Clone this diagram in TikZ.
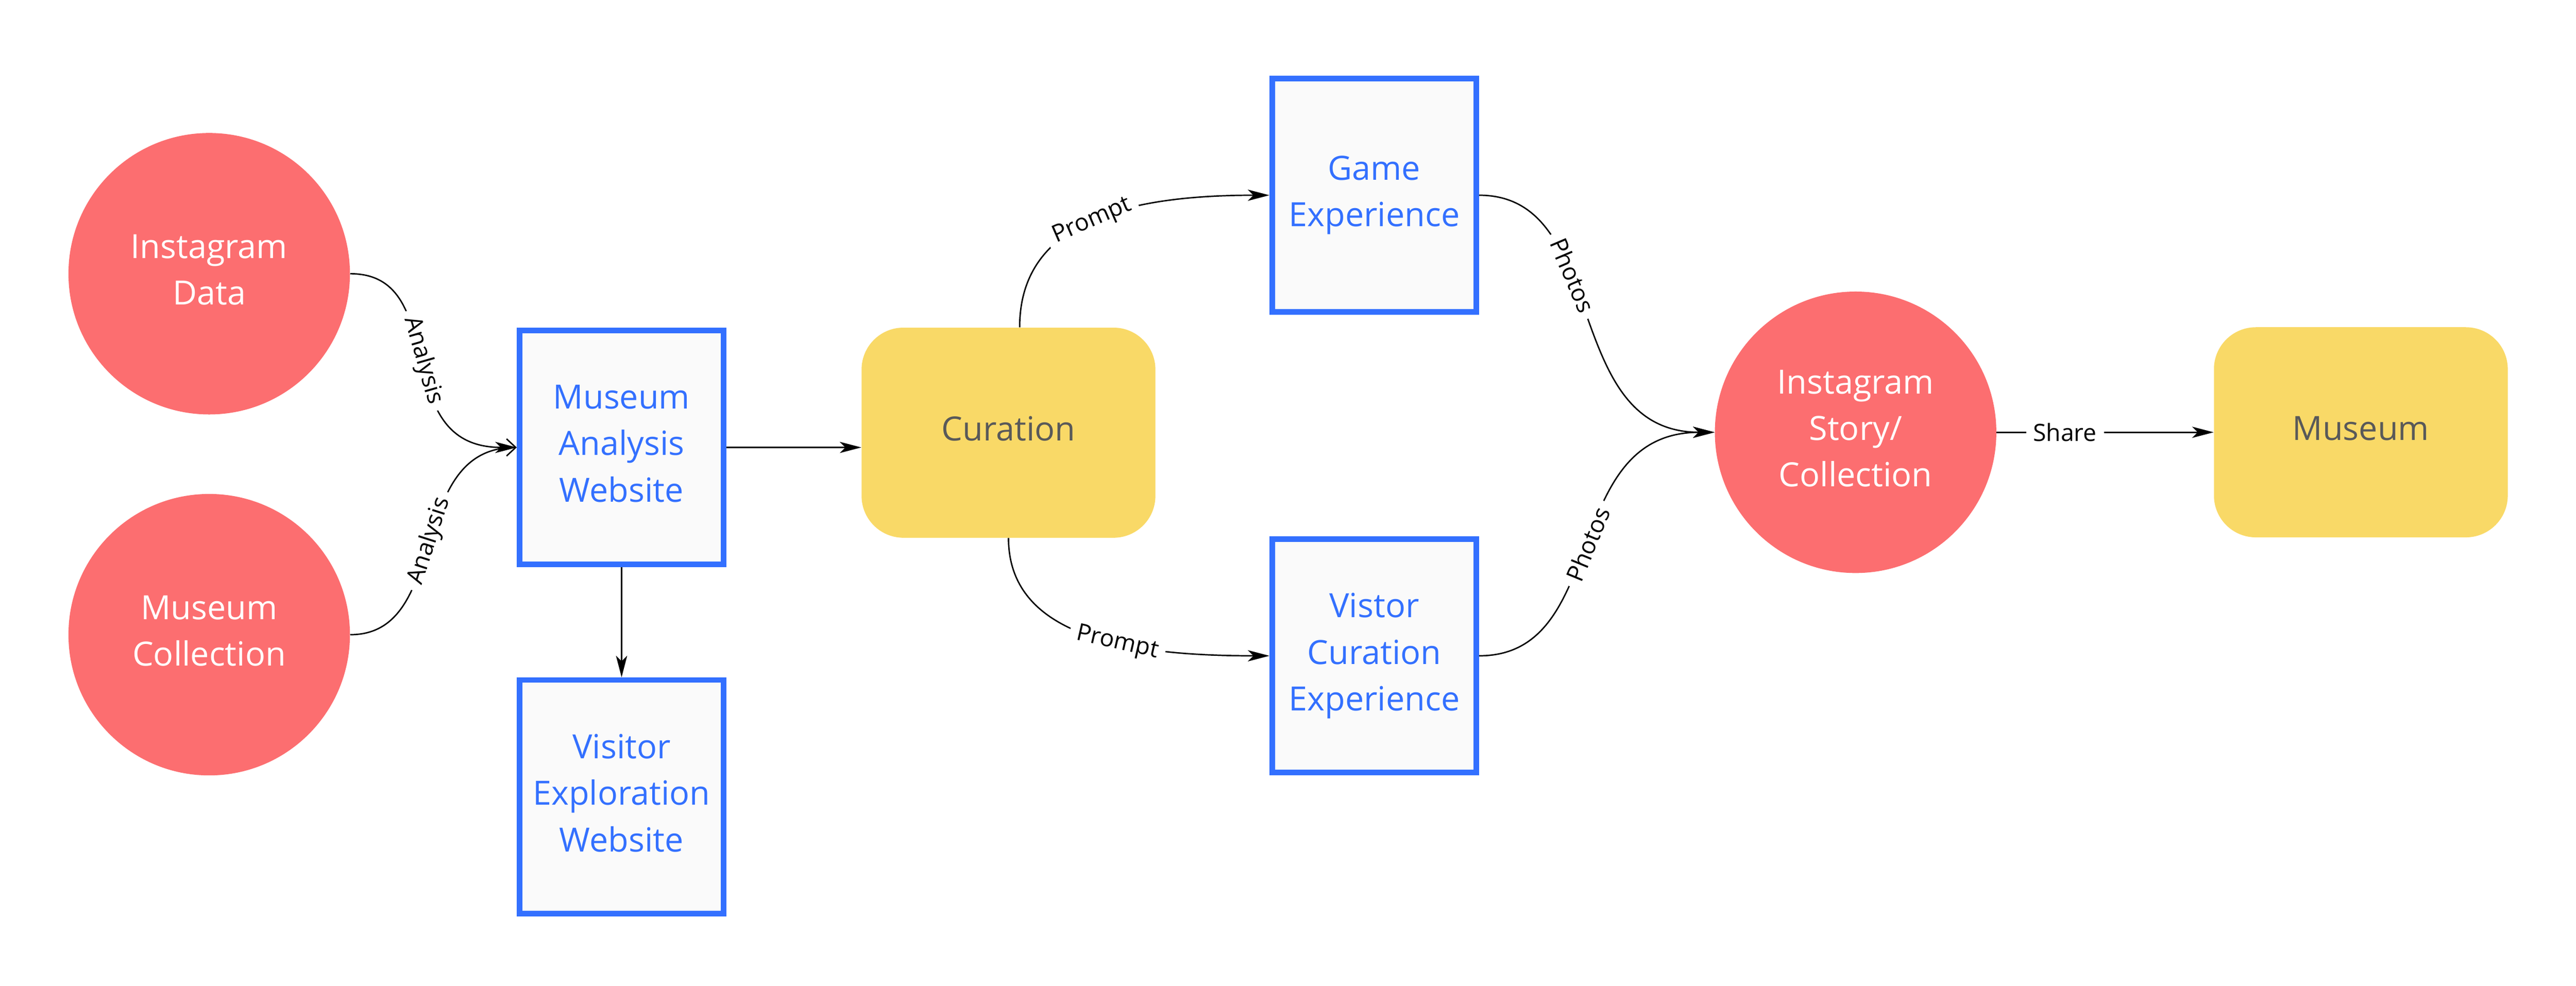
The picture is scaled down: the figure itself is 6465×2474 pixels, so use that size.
\documentclass[tikz,border=0pt]{standalone}
\usepackage{fontspec}
\setmainfont{Open Sans}
\usetikzlibrary{arrows.meta}
\definecolor{cblue}{HTML}{3370FF}
\definecolor{boxfill}{HTML}{FAFAFA}
\definecolor{cred}{HTML}{FC6E70}
\definecolor{cyel}{HTML}{F9D967}
\definecolor{cgray}{HTML}{595959}
\newcommand\bigf{\fontsize{23.8pt}{33.2pt}\selectfont}
\newcommand\lblf{\fontsize{17pt}{20pt}\selectfont}
\begin{document}
\begin{tikzpicture}[x=0.01cm,y=-0.01cm,
  bluebox/.style={draw=cblue, line width=0.14cm, fill=boxfill, minimum width=5.12cm, minimum height=5.86cm, text=cblue, align=center, font=\bigf, inner sep=0pt, text depth=0.2cm},
  redcirc/.style={circle, fill=cred, minimum size=7.06cm, inner sep=0pt, text=white, align=center, font=\bigf, text depth=0.2cm},
  yelbox/.style={rounded corners=1.05cm, fill=cyel, minimum width=7.37cm, minimum height=5.27cm, text=cgray, font=\bigf, align=center, text depth=0.2cm},
  conn/.style={line width=0.035cm, -{Stealth[length=0.54cm,width=0.28cm,inset=0.14cm]}},
  barbconn/.style={line width=0.035cm, -{Straight Barb[length=0.23cm,width=0.43cm]}},
  lbl/.style={fill=white, font=\lblf, inner xsep=0.18cm, inner ysep=0.04cm}]
\useasboundingbox (0,0) rectangle (6465,2474);
\fill[white] (0,0) rectangle (6465,2474);

\node[redcirc] (idata) at (525,687) {Instagram\\Data};
\node[redcirc] (mcoll) at (525,1593) {Museum\\Collection};
\node[bluebox] (mab) at (1560,1123) {Museum\\Analysis\\Website};
\node[bluebox] (ve) at (1560,2000) {Visitor\\Exploration\\Website};
\node[yelbox] (cur) at (2531,1086) {Curation};
\node[bluebox] (game) at (3449,490) {Game\\Experience};
\node[bluebox] (vc) at (3449,1646) {Vistor\\Curation\\Experience};
\node[redcirc] (story) at (4657,1085) {Instagram\\Story/\\Collection};
\node[yelbox] (mus) at (5925,1085) {Museum};

\draw[barbconn] (mcoll.east) .. controls +(255,0) and +(-281,0) .. (mab.west)
  node[lbl, sloped, pos=0.5] {Analysis};
\draw[conn] (idata.east) .. controls +(257,0) and +(-328,0) .. (mab.west)
  node[lbl, sloped, pos=0.5] {Analysis};
\draw[conn] (mab.east) -- (mab.east -| cur.west);
\draw[conn] (mab.south) -- (ve.north);
\draw[conn] ([xshift=0.28cm]cur.north) .. controls +(0,-270) and +(-350,0) .. (game.west)
  node[lbl, sloped, pos=0.5] {Prompt};
\draw[conn] (cur.south) .. controls +(0,250) and +(-350,0) .. (vc.west)
  node[lbl, sloped, pos=0.6] {Prompt};
\draw[conn] (game.east) .. controls +(330,0) and +(-390,0) .. (story.west)
  node[lbl, sloped, pos=0.39] {Photos};
\draw[conn] (vc.east) .. controls +(330,0) and +(-390,0) .. (story.west)
  node[lbl, sloped, pos=0.5] {Photos};
\draw[conn] (story.east) -- (mus.west)
  node[lbl, pos=0.315] {Share};
\end{tikzpicture}
\end{document}
